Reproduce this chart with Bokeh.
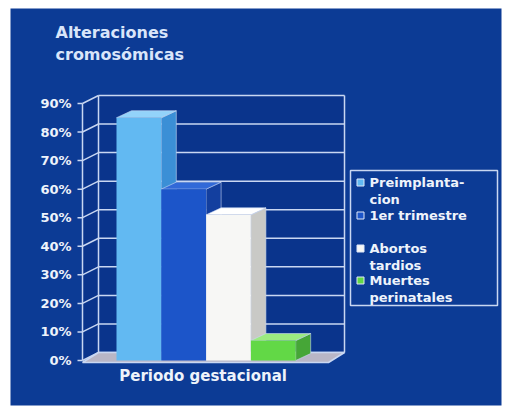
from bokeh.plotting import figure
from bokeh.models import Range1d
from bokeh.core.properties import value
from bokeh.embed import file_html
from bokeh.resources import INLINE

# ---------------- data ----------------
title_text = "Alteraciones\ncromosómicas"
category = "Periodo gestacional"
series = ["Preimplanta-\ncion", "1er trimestre", "Abortos\ntardios", "Muertes\nperinatales"]
values = [85, 60, 51, 7]
ticks = [0, 10, 20, 30, 40, 50, 60, 70, 80, 90]
tick_labels = ["0%", "10%", "20%", "30%", "40%", "50%", "60%", "70%", "80%", "90%"]

# ---------------- style ----------------
front_colors = ["#62b9f2", "#1c55c9", "#f7f7f5", "#62d846"]
side_colors = ["#3b8fd6", "#133f9f", "#c9c9c6", "#46a637"]
top_colors = ["#93d3fa", "#3169d8", "#ffffff", "#9ceb80"]
BG = "#0c3b95"
WALL = "#0a348c"
GRID = "#c9d7f2"
TXT = "#eef3fb"

W, H = 508, 411
ZERO_PX = 360.0          # pixel row of 0 %
PX_PER_PCT = 2.856       # pixels per percent


def yv(px):
    """pixel row -> y value"""
    return (ZERO_PX - px) / PX_PER_PCT


def dyv(px):
    return px / PX_PER_PCT


p = figure(width=W, height=H, output_backend="svg", toolbar_location=None,
           x_range=Range1d(0, W), y_range=Range1d(yv(H), yv(0)),
           min_border=0, outline_line_color=None, background_fill_color="white",
           border_fill_color="white")
p.axis.visible = False
p.grid.visible = False

# blue panel
p.quad(left=10, right=501, bottom=yv(405), top=yv(8), fill_color=BG, line_color=None)

# ---------------- 3D walls ----------------
FRONT_X, BACK_X, RIGHT_X = 82, 98, 344
WALL_DY = dyv(8)
top_t = ticks[-1]

# back wall
p.quad(left=BACK_X, right=RIGHT_X, bottom=WALL_DY, top=top_t + WALL_DY,
       fill_color=WALL, line_color=None)
# side wall
p.patch([FRONT_X, BACK_X, BACK_X, FRONT_X], [0, WALL_DY, top_t + WALL_DY, top_t],
        fill_color=WALL, line_color=None)

# gridlines on back wall
p.segment(x0=[BACK_X] * len(ticks), y0=[t + WALL_DY for t in ticks],
          x1=[RIGHT_X] * len(ticks), y1=[t + WALL_DY for t in ticks],
          line_color=GRID, line_width=1.5)
# gridlines on side wall
p.segment(x0=[FRONT_X] * len(ticks), y0=ticks,
          x1=[BACK_X] * len(ticks), y1=[t + WALL_DY for t in ticks],
          line_color=GRID, line_width=1.5)
# vertical edges
p.segment(x0=[FRONT_X, BACK_X, RIGHT_X], y0=[0, WALL_DY, WALL_DY],
          x1=[FRONT_X, BACK_X, RIGHT_X], y1=[top_t, top_t + WALL_DY, top_t + WALL_DY],
          line_color=GRID, line_width=1.5)
# tick marks
p.segment(x0=[FRONT_X - 5] * len(ticks), y0=ticks, x1=[FRONT_X] * len(ticks), y1=ticks,
          line_color=GRID, line_width=1.5)

# floor
p.patch([FRONT_X, RIGHT_X - (BACK_X - FRONT_X), RIGHT_X, BACK_X],
        [dyv(-2), dyv(-2), WALL_DY, WALL_DY],
        fill_color="#b9b6c6", line_color=GRID, line_width=1.5)

# tick labels
p.text(x=[71] * len(ticks), y=ticks, text=tick_labels, text_align="right",
       text_baseline="middle", text_font=value("DejaVu Sans"), text_font_style="bold",
       text_font_size="13px", text_color=TXT)

# ---------------- bars ----------------
BAR_X0 = 116
BAR_W = 44.8
BAR_DX = 15
BAR_DY = dyv(7)
for i, v in enumerate(values):
    l = BAR_X0 + i * BAR_W
    r = l + BAR_W
    # side face
    p.patch([r, r + BAR_DX, r + BAR_DX, r], [0, BAR_DY, v + BAR_DY, v],
            fill_color=side_colors[i], line_color=GRID, line_width=0.6)
    # top face
    p.patch([l, r, r + BAR_DX, l + BAR_DX], [v, v, v + BAR_DY, v + BAR_DY],
            fill_color=top_colors[i], line_color=GRID, line_width=0.6)
    # front face
    p.quad(left=l, right=r, bottom=0, top=v, fill_color=front_colors[i],
           line_color=None)

# category label
p.text(x=[BAR_X0 + 2 * BAR_W - 3], y=[yv(375)], text=[category], text_align="center",
       text_baseline="middle", text_font=value("DejaVu Sans"), text_font_style="bold",
       text_font_size="15px", text_color=TXT)

# ---------------- title ----------------
p.text(x=[55], y=[yv(22)], text=[title_text], text_align="left", text_baseline="top",
       text_font=value("DejaVu Sans"), text_font_style="bold", text_font_size="16px",
       text_color="#d9e5fa", text_line_height=1.2)

# ---------------- legend ----------------
p.quad(left=350, right=497, top=yv(170), bottom=yv(305), fill_color=None,
       line_color=GRID, line_width=1.5)
leg_rows = [182, 215, 248, 280]
p.scatter(x=[360] * len(series), y=[yv(r) for r in leg_rows], marker="square", size=7,
          fill_color=front_colors, line_color="#dfe8f8", line_width=1)
p.text(x=[369] * len(series), y=[yv(r - 8) for r in leg_rows], text=series,
       text_align="left", text_baseline="top", text_font=value("DejaVu Sans"),
       text_font_style="bold", text_font_size="13px", text_color=TXT,
       text_line_height=1.15)

open("out.html", "w").write(file_html(p, INLINE))
